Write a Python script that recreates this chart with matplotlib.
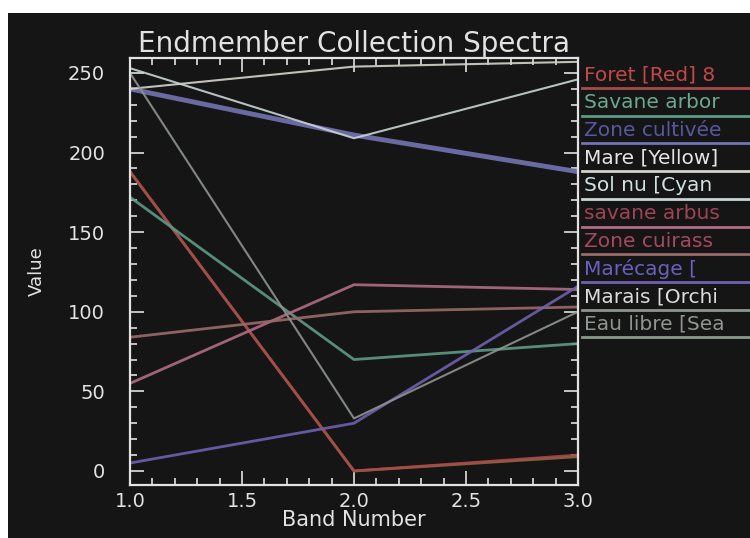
import numpy as np
import matplotlib.pyplot as plt
from matplotlib.patches import Rectangle
from matplotlib.lines import Line2D
from matplotlib.ticker import MultipleLocator

# Endmember spectra (3 bands)
bands = [1.0, 2.0, 3.0]

foret = [188, 0, 10]
savane_arboree = [172, 70, 80]
zone_cultivee = [240, 211, 188]
mare = [240, 254, 257]
sol_nu = [253, 209, 246]
savane_arbustive = [55, 117, 114]
zone_cuirassee = [84, 100, 103]
marecage = [5, 30, 116]
marais = [250, 33, 100]
eau_libre = [188, 0, 9]

# legend labels, as far as they show before the window edge
noms = ["Foret [Red] 8", "Savane arbor", "Zone cultivée",
        "Mare [Yellow]", "Sol nu [Cyan", "savane arbus",
        "Zone cuirass", "Marécage [", "Marais [Orchi",
        "Eau libre [Sea"]
series = [eau_libre, foret, savane_arboree, zone_cultivee, mare, sol_nu,
          savane_arbustive, zone_cuirassee, marecage, marais]
couleurs = ["#8a6a40", "#a84a4a", "#5f9a86", "#7474b4", "#d4d4cc", "#c8d4d4",
            "#b06c86", "#9a6a6a", "#7060b0", "#8e948e"]
largeurs = [2, 2, 2, 3.5, 1.5, 1.5, 2, 2, 2, 1.5]
couleurs_leg = ["#a84a4a", "#5f9a86", "#7474b4", "#d4d4cc", "#c8d4d4",
                "#b06c86", "#9a6a6a", "#7060b0", "#8e948e", "#8a9a8a"]
couleurs_texte = ["#c04848", "#6aa890", "#5858a0", "#e4e4e4", "#cfe2e2", "#a04454",
                  "#a84860", "#6a60c0", "#dcdcdc", "#8e968e"]

bg = "#151515"
fg = "#e2e2e2"

fig = plt.figure(figsize=(7.5, 5.38), dpi=100)
fig.patch.set_facecolor("white")
fig.add_artist(Rectangle((8/750, 0), 1, 1 - 13/538, transform=fig.transFigure,
                         facecolor=bg, edgecolor="none", zorder=0))

ax = fig.add_axes([130/750, 1 - 485/538, 448/750, 427/538])
ax.set_facecolor(bg)

for s, c, lw in zip(series, couleurs, largeurs):
    ax.plot(bands, s, color=c, lw=lw, alpha=0.9)

ax.set_xlim(1.0, 3.0)
ax.set_ylim(-8.8, 259.4)
ax.xaxis.set_minor_locator(MultipleLocator(0.1))
ax.yaxis.set_minor_locator(MultipleLocator(10))
ax.set_xticks([1.0, 1.5, 2.0, 2.5, 3.0])
ax.set_xticklabels(["1.0", "1.5", "2.0", "2.5", "3.0"])
ax.set_yticks([0, 50, 100, 150, 200, 250])
ax.set_yticklabels(["0", "50", "100", "150", "200", "250"])

ax.tick_params(which="both", direction="in", colors=fg, top=True, right=True,
               labelsize=14, width=1.2)
ax.tick_params(which="major", length=10)
ax.tick_params(which="minor", length=5)
ax.tick_params(axis="x", pad=5)
ax.tick_params(axis="y", pad=18)
for sp in ax.spines.values():
    sp.set_color(fg)
    sp.set_linewidth(1.6)

ax.set_title("Endmember Collection Spectra", color=fg, fontsize=20, pad=4)
ax.set_xlabel("Band Number", color=fg, fontsize=15, labelpad=-1)
ax.set_ylabel("Value", color=fg, fontsize=13, labelpad=16)

# legend on the right
y0 = 75
dy = 27.7
for i, (nom, ct, c) in enumerate(zip(noms, couleurs_texte, couleurs_leg)):
    y = y0 + i * dy
    fig.text(584/750, 1 - y/538, nom, color=ct, fontsize=14.5, va="center", ha="left")
    fig.add_artist(Line2D([582/750, 1], [1 - (y + 13)/538] * 2, color=c, lw=2,
                          transform=fig.transFigure))

fig.savefig("out.png", dpi=100, facecolor=fig.get_facecolor())
